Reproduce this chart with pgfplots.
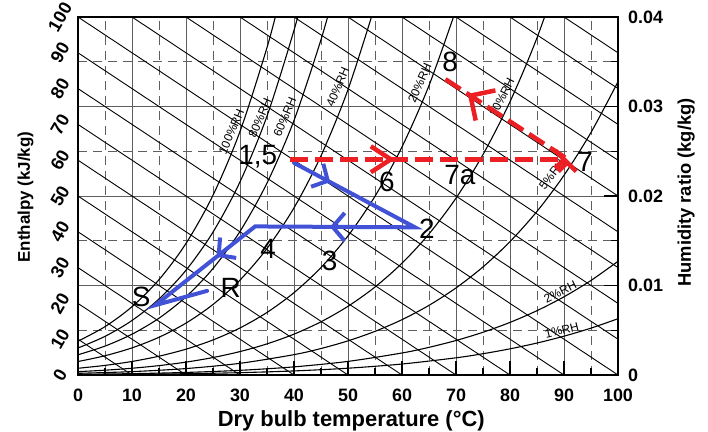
\documentclass[border=0pt]{standalone}
\usepackage{pgfplots}
\pgfplotsset{compat=1.18}
\usepackage{fontspec}
\setmainfont{Liberation Sans}
\usetikzlibrary{arrows.meta,decorations.markings}
\definecolor{myblue}{RGB}{66,82,214}
\definecolor{myred}{RGB}{236,32,36}
\definecolor{gridgray}{RGB}{95,95,95}
\tikzset{
  enthalpy/.style={black, line width=0.9bp},
  rh/.style={black, line width=1.1bp, smooth},
  rhlab/.style={font=\fontsize{12}{12}\selectfont, inner sep=0pt},
  pt/.style={font=\fontsize{28}{28}\selectfont, inner sep=0pt},
}
\begin{document}
\begin{tikzpicture}
\useasboundingbox (-78bp,-57bp) rectangle (630bp,375bp);
% ---------- axis A: grid, bottom and right ticks ----------
\begin{axis}[
  at={(0,0)}, anchor=south west, scale only axis, width=540bp, height=358bp,
  xmin=0, xmax=100, ymin=0, ymax=0.04,
  scaled y ticks=false, scaled x ticks=false,
  xtick={0,10,20,30,40,50,60,70,80,90,100}, minor x tick num=1,
  ytick={0,0.01,0.02,0.03,0.04}, yticklabels={0,0.01,0.02,0.03,0.04},
  minor y tick num=1,
  grid=both,
  major grid style={gridgray, line width=0.9bp},
  minor grid style={gridgray, line width=0.9bp, dash pattern=on 9bp off 6bp},
  tick align=inside,
  xtick pos=left, ytick pos=right, yticklabel pos=right,
  major tick length=14bp, minor tick length=7bp,
  tick style={black, line width=1.4bp},
  axis line style={draw=none},
  /pgf/number format/assume math mode=true,
  ticklabel style={font=\fontsize{18}{18}\selectfont\bfseries, inner sep=0pt},
  xticklabel style={anchor=center},
  xticklabel shift=20bp,
  yticklabel style={anchor=west},
  yticklabel shift=10bp,
  xlabel={Dry bulb temperature (°C)},
  xlabel style={font=\fontsize{22}{22}\selectfont\bfseries, at={(axis description cs:0.506,-0.1425)}, anchor=base},
  ylabel={Humidity ratio (kg/kg)},
  ylabel style={font=\fontsize{18.4}{18.4}\selectfont\bfseries, at={(axis description cs:1.135,0.51)}, anchor=base},
]
\end{axis}
% ---------- axis B: chart content ----------
\begin{axis}[
  at={(0,0)}, anchor=south west, scale only axis, width=540bp, height=358bp,
  xmin=0, xmax=100, ymin=0, ymax=0.04,
  scaled y ticks=false, scaled x ticks=false,
  xtick=\empty,
  ytick={0,0.004,0.008,0.012,0.016,0.02,0.024,0.028,0.032,0.036,0.04},
  yticklabels={0,10,20,30,40,50,60,70,80,90,100},
  ytick pos=left, major tick length=0pt,
  yticklabel style={font=\fontsize{18}{18}\selectfont\bfseries, rotate=60, anchor=center, inner sep=0pt},
  yticklabel shift=18bp,
  axis line style={line width=2.5bp, black},
  ylabel={Enthalpy (kJ/kg)},
  ylabel style={font=\fontsize{17}{17}\selectfont\bfseries, at={(axis description cs:-0.0889,0.497)}, anchor=base},
]
% enthalpy lines
\addplot[enthalpy, forget plot] coordinates {(0,0.004) (10,0)};
\addplot[enthalpy, forget plot] coordinates {(0,0.008) (20,0)};
\addplot[enthalpy, forget plot] coordinates {(0,0.012) (30,0)};
\addplot[enthalpy, forget plot] coordinates {(0,0.016) (40,0)};
\addplot[enthalpy, forget plot] coordinates {(0,0.020) (50,0)};
\addplot[enthalpy, forget plot] coordinates {(0,0.024) (60,0)};
\addplot[enthalpy, forget plot] coordinates {(0,0.028) (70,0)};
\addplot[enthalpy, forget plot] coordinates {(0,0.032) (80,0)};
\addplot[enthalpy, forget plot] coordinates {(0,0.036) (90,0)};
\addplot[enthalpy, forget plot] coordinates {(0,0.040) (100,0)};
\addplot[enthalpy, forget plot] coordinates {(10,0.04) (100,0.004)};
\addplot[enthalpy, forget plot] coordinates {(20,0.04) (100,0.008)};
\addplot[enthalpy, forget plot] coordinates {(30,0.04) (100,0.012)};
\addplot[enthalpy, forget plot] coordinates {(40,0.04) (100,0.016)};
\addplot[enthalpy, forget plot] coordinates {(50,0.04) (100,0.020)};
\addplot[enthalpy, forget plot] coordinates {(60,0.04) (100,0.024)};
\addplot[enthalpy, forget plot] coordinates {(70,0.04) (100,0.028)};
\addplot[enthalpy, forget plot] coordinates {(80,0.04) (100,0.032)};
\addplot[enthalpy, forget plot] coordinates {(90,0.04) (100,0.036)};
% relative humidity curves
\addplot[rh, forget plot] coordinates {(0,0.003775) (5,0.005403) (10,0.007632) (15,0.010651) (20,0.014700) (25,0.020087) (30,0.027211) (35,0.036587) (37.5,0.042307)};
\addplot[rh, forget plot] coordinates {(0,0.003016) (5,0.004315) (10,0.006091) (15,0.008491) (20,0.011704) (25,0.015967) (30,0.021581) (35,0.028929) (40,0.038512) (42.5,0.044295)};
\addplot[rh, forget plot] coordinates {(0,0.002259) (5,0.003231) (10,0.004557) (15,0.006347) (20,0.008737) (25,0.011899) (30,0.016046) (35,0.021448) (40,0.028444) (45,0.037469) (47.5,0.042875)};
\addplot[rh, forget plot] coordinates {(0,0.001504) (5,0.002150) (10,0.003031) (15,0.004217) (20,0.005798) (25,0.007882) (30,0.010606) (35,0.014136) (40,0.018678) (45,0.024488) (50,0.031884) (55,0.041274)};
\addplot[rh, forget plot] coordinates {(0,0.000751) (5,0.001073) (10,0.001512) (15,0.002101) (20,0.002885) (25,0.003916) (30,0.005258) (35,0.006989) (40,0.009201) (45,0.012008) (50,0.015544) (55,0.019974) (60,0.025493) (65,0.032345) (70,0.040822)};
\addplot[rh, forget plot] coordinates {(0,0.000375) (5,0.000536) (10,0.000755) (15,0.001049) (20,0.001439) (25,0.001952) (30,0.002618) (35,0.003475) (40,0.004567) (45,0.005946) (50,0.007676) (55,0.009829) (60,0.012491) (65,0.015763) (70,0.019762) (75,0.024632) (80,0.030536) (85,0.037675) (90,0.046289)};
\addplot[rh, forget plot] coordinates {(0,0.000188) (10,0.000377) (20,0.000719) (30,0.001306) (40,0.002275) (45,0.002959) (50,0.003815) (55,0.004876) (60,0.006183) (65,0.007783) (70,0.009727) (75,0.012077) (80,0.014902) (85,0.018284) (90,0.022314) (95,0.027101) (100,0.032769)};
\addplot[rh, forget plot] coordinates {(0,0.000075) (10,0.000151) (20,0.000287) (30,0.000522) (40,0.000908) (50,0.001520) (60,0.002459) (65,0.003090) (70,0.003855) (75,0.004775) (80,0.005877) (85,0.007187) (90,0.008738) (95,0.010564) (100,0.012706)};
\addplot[rh, forget plot] coordinates {(0,0.0000375) (10,0.0000755) (20,0.000144) (30,0.000261) (40,0.000454) (50,0.000759) (60,0.001227) (70,0.001921) (75,0.002378) (80,0.002924) (85,0.003573) (90,0.004338) (95,0.005238) (100,0.006289)};
% RH labels
\node[rhlab, rotate=67] at (axis cs:28.4,0.0272) {100\%RH};
\node[rhlab, rotate=67] at (axis cs:33.7,0.0287) {80\%RH};
\node[rhlab, rotate=67] at (axis cs:38.3,0.0288) {60\%RH};
\node[rhlab, rotate=67] at (axis cs:48.1,0.0322) {40\%RH};
\node[rhlab, rotate=66] at (axis cs:63.3,0.0326) {20\%RH};
\node[rhlab, rotate=63] at (axis cs:78.5,0.0310) {10\%RH};
\node[rhlab, rotate=53] at (axis cs:87.8,0.0224) {5\%RH};
\node[rhlab, rotate=27] at (axis cs:89.3,0.0093) {2\%RH};
\node[rhlab, rotate=14] at (axis cs:89.6,0.0050) {1\%RH};
% blue process path
\addplot[myblue, line width=4bp, line join=miter, line cap=round, forget plot,
  postaction={decorate},
  decoration={markings,
    mark=at position 41bp with {\arrow{Straight Barb[length=12bp,width=26bp]}},
    mark=at position 222bp with {\arrow{Straight Barb[length=12bp,width=28bp]}},
    mark=at position 346bp with {\arrow{Straight Barb[length=12bp,width=26bp]}}}]
  coordinates {(40,0.0237) (62.4,0.0165) (32.8,0.0166) (14.3,0.0078) (23.9,0.0094)};
% red dashed paths
\addplot[myred, line width=4.5bp, dash pattern=on 18bp off 7bp, forget plot,
  -{Straight Barb[length=9bp,width=18bp]},
  postaction={decorate},
  decoration={markings,
    mark=at position 0.378 with {\arrow{Straight Barb[length=20bp,width=26bp]}}}]
  coordinates {(39.3,0.0241) (90.6,0.0241)};
\addplot[myred, line width=4.5bp, dash pattern=on 18bp off 7bp, forget plot,
  postaction={decorate},
  decoration={markings,
    mark=at position 0.79 with {\arrow{Straight Barb[length=18bp,width=36bp]}}}]
  coordinates {(90.2,0.0243) (67.4,0.0333)};
% point labels
\node[pt] at (axis cs:33.3,0.02436) {1,5};
\node[pt] at (axis cs:57.2,0.02156) {6};
\node[pt] at (axis cs:70.7,0.02235) {7a};
\node[pt] at (axis cs:93.9,0.0238) {7};
\node[pt] at (axis cs:68.9,0.0350) {8};
\node[pt] at (axis cs:64.6,0.0163) {2};
\node[pt] at (axis cs:46.6,0.01274) {3};
\node[pt] at (axis cs:35.2,0.01408) {4};
\node[pt] at (axis cs:11.7,0.00872) {S};
\node[pt] at (axis cs:28.3,0.00972) {R};
\end{axis}
\end{tikzpicture}
\end{document}
